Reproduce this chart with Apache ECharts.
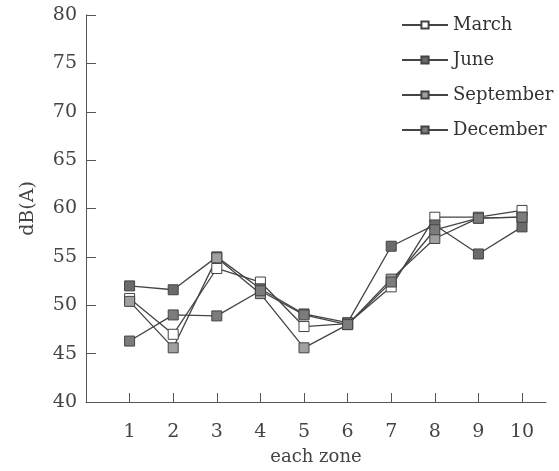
<!DOCTYPE html>
<html><head><meta charset="utf-8">
<script src="https://cdn.jsdelivr.net/npm/echarts@6/dist/echarts.min.js"></script>
<style>html,body{margin:0;padding:0;background:#fff}#c{width:559px;height:471px}</style>
</head><body><div id="c"></div>
<script>
const zones = [1,2,3,4,5,6,7,8,9,10];
const march = [50.7,47.0,53.8,52.4,47.8,48.1,51.9,59.1,59.1,59.8];
const june = [52.0,51.6,55.0,51.7,49.1,48.2,56.1,58.3,55.3,58.1];
const september = [50.4,45.6,54.9,51.2,45.6,48.0,52.7,56.9,59.0,59.1];
const december = [46.3,49.0,48.9,51.5,49.0,48.0,52.4,57.8,59.0,59.1];
const seriesNames = ['March','June','September','December'];
const fills = ['#ffffff','#6a6a6a','#a0a0a0','#7c7c7c'];
const allData = [march,june,september,december];
const font = 'DejaVu Serif';
const chart = echarts.init(document.getElementById('c'));
chart.setOption({
  animation:false,
  backgroundColor:'#fff',
  textStyle:{fontFamily:font},
  grid:{left:86,right:13,top:15,bottom:63},
  legend:{
    orient:'vertical', left:396, top:11, itemGap:17, itemWidth:46, itemHeight:9,
    textStyle:{fontFamily:font,fontSize:18,color:'#333'},
    data:seriesNames
  },
  xAxis:{
    type:'value', min:0, max:10.55, interval:1,
    name:'each zone', nameLocation:'middle', nameGap:46,
    nameTextStyle:{fontFamily:font,fontSize:18,color:'#444'},
    axisLine:{lineStyle:{color:'#555',width:1}},
    axisTick:{inside:true,length:9,lineStyle:{color:'#555'}},
    axisLabel:{fontFamily:font,fontSize:19,color:'#444',margin:21,showMaxLabel:false,
      formatter:v=> (v>=1 && v<=10 && Number.isInteger(v)) ? String(v) : ''},
    splitLine:{show:false}
  },
  yAxis:{
    type:'value', min:40, max:80, interval:5,
    name:'dB(A)', nameLocation:'middle', nameGap:48, nameRotate:90,
    nameTextStyle:{fontFamily:font,fontSize:19,color:'#444'},
    axisLine:{show:true,lineStyle:{color:'#555',width:1}},
    axisTick:{show:true,inside:true,length:10,lineStyle:{color:'#555'}},
    axisLabel:{fontFamily:font,fontSize:19,color:'#444',margin:9},
    splitLine:{show:false}
  },
  series: seriesNames.map((n,i)=>({
    name:n, type:'line',
    data: zones.map((z,j)=>[z, allData[i][j]]),
    symbol:'rect', symbolSize:10, showSymbol:true,
    lineStyle:{color:'#444',width:1.3},
    itemStyle:{color:fills[i],borderColor:'#444',borderWidth:1},
    emphasis:{disabled:true}
  }))
});
</script></body></html>
